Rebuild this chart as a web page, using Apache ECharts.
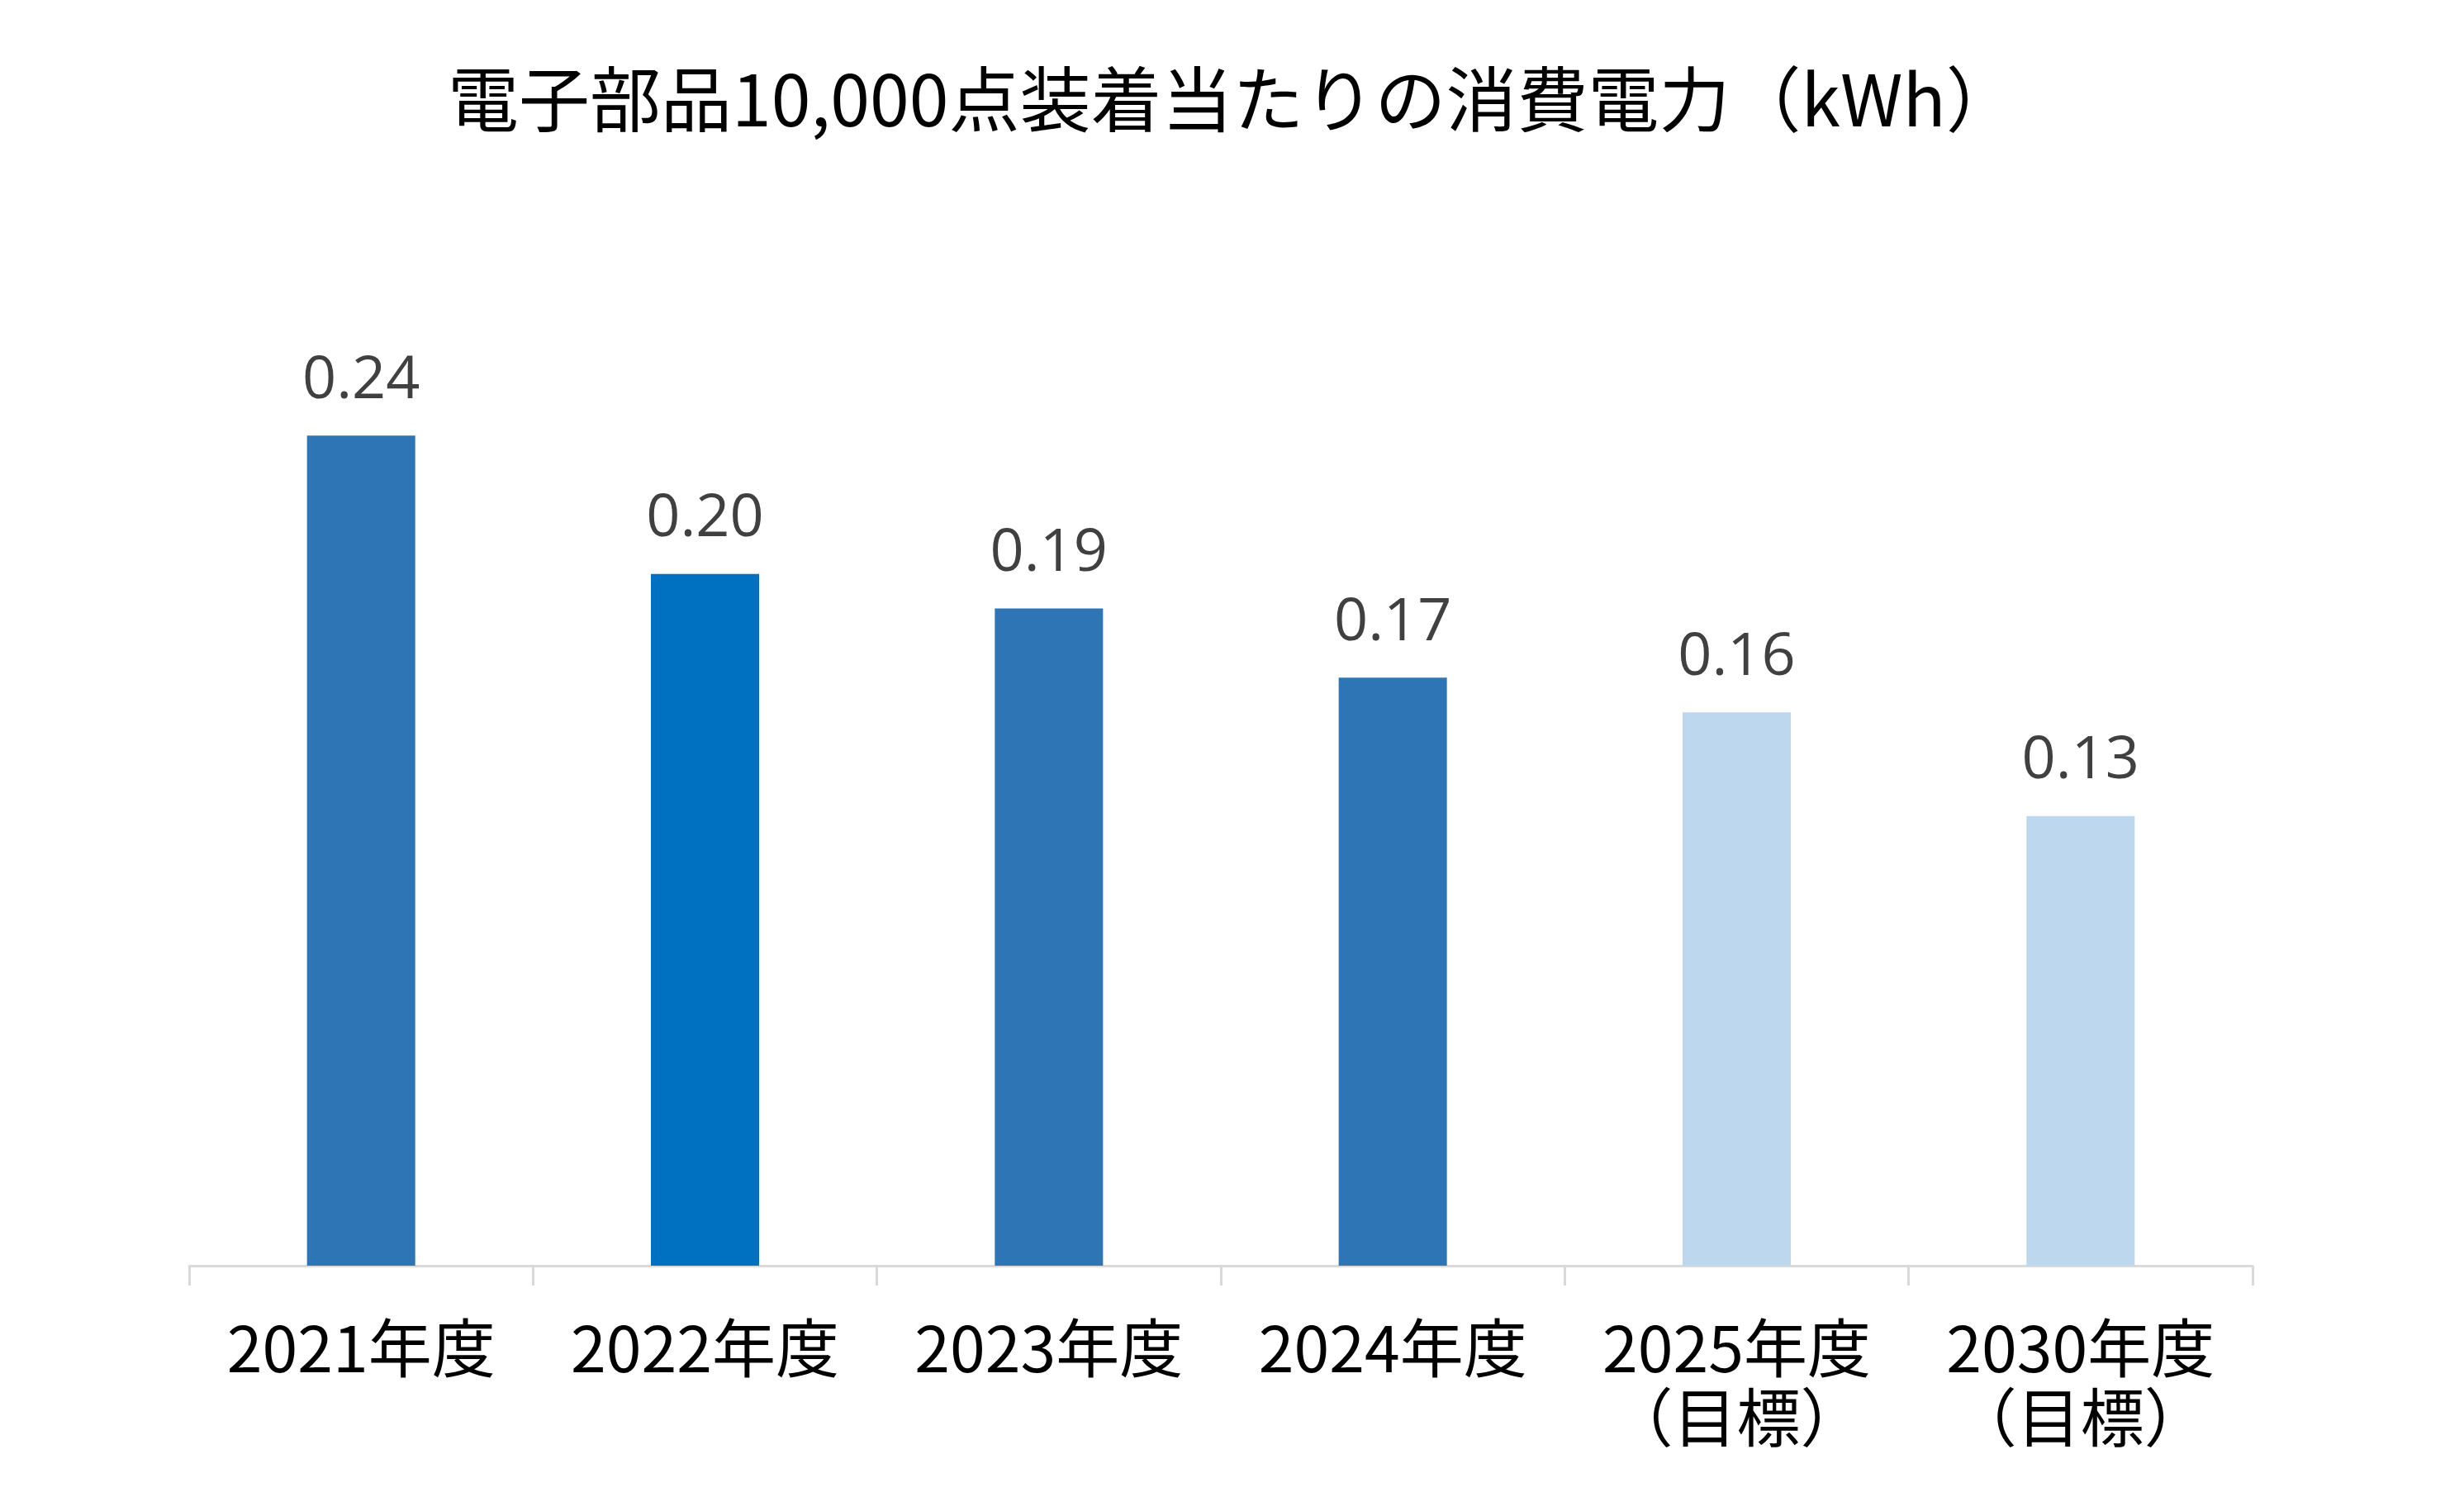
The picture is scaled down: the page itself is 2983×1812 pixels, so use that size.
<!DOCTYPE html>
<html>
<head>
<meta charset="utf-8">
<script src="https://cdn.jsdelivr.net/npm/echarts@6/dist/echarts.min.js"></script>
<style>
html,body{margin:0;padding:0;background:#fff;}
#chart{width:2983px;height:1812px;}
</style>
</head>
<body>
<div id="chart"></div>
<script>
const titleText = '電子部品10,000点装着当たりの消費電力（kWh）';
const categories = ['2021年度', '2022年度', '2023年度', '2024年度', '2025年度\n（目標）', '2030年度\n（目標）'];
const values = [0.24, 0.20, 0.19, 0.17, 0.16, 0.13];
const barColors = ['#2E75B6', '#0070C0', '#2E75B6', '#2E75B6', '#BDD7EE', '#BDD7EE'];

const chart = echarts.init(document.getElementById('chart'));
chart.setOption({
  backgroundColor: '#ffffff',
  animation: false,
  title: {
    text: titleText,
    left: 537,
    top: 72,
    textStyle: {
      fontFamily: '"Noto Sans CJK JP", sans-serif',
      fontSize: 86,
      fontWeight: 'normal',
      color: '#000000'
    }
  },
  grid: { left: 229, right: 256, top: 276, bottom: 280, containLabel: false },
  xAxis: {
    type: 'category',
    data: categories,
    axisLine: { show: true, lineStyle: { color: '#d9d9d9', width: 3 } },
    axisTick: { show: true, length: 24, interval: 0, lineStyle: { color: '#d9d9d9', width: 3 } },
    axisLabel: {
      interval: 0,
      hideOverlap: false,
      margin: 58,
      fontFamily: '"Noto Sans CJK JP", sans-serif',
      fontSize: 77,
      lineHeight: 84,
      color: '#000000'
    }
  },
  yAxis: {
    type: 'value',
    min: 0,
    max: 0.3,
    show: false,
    splitLine: { show: false }
  },
  series: [{
    type: 'bar',
    data: values.map((v, i) => ({ value: v, itemStyle: { color: barColors[i] } })),
    barWidth: 131,
    label: {
      show: true,
      position: 'top',
      distance: 30,
      formatter: p => p.value.toFixed(2),
      fontFamily: '"Open Sans", sans-serif',
      fontSize: 72,
      color: '#404040'
    }
  }]
});
</script>
</body>
</html>
